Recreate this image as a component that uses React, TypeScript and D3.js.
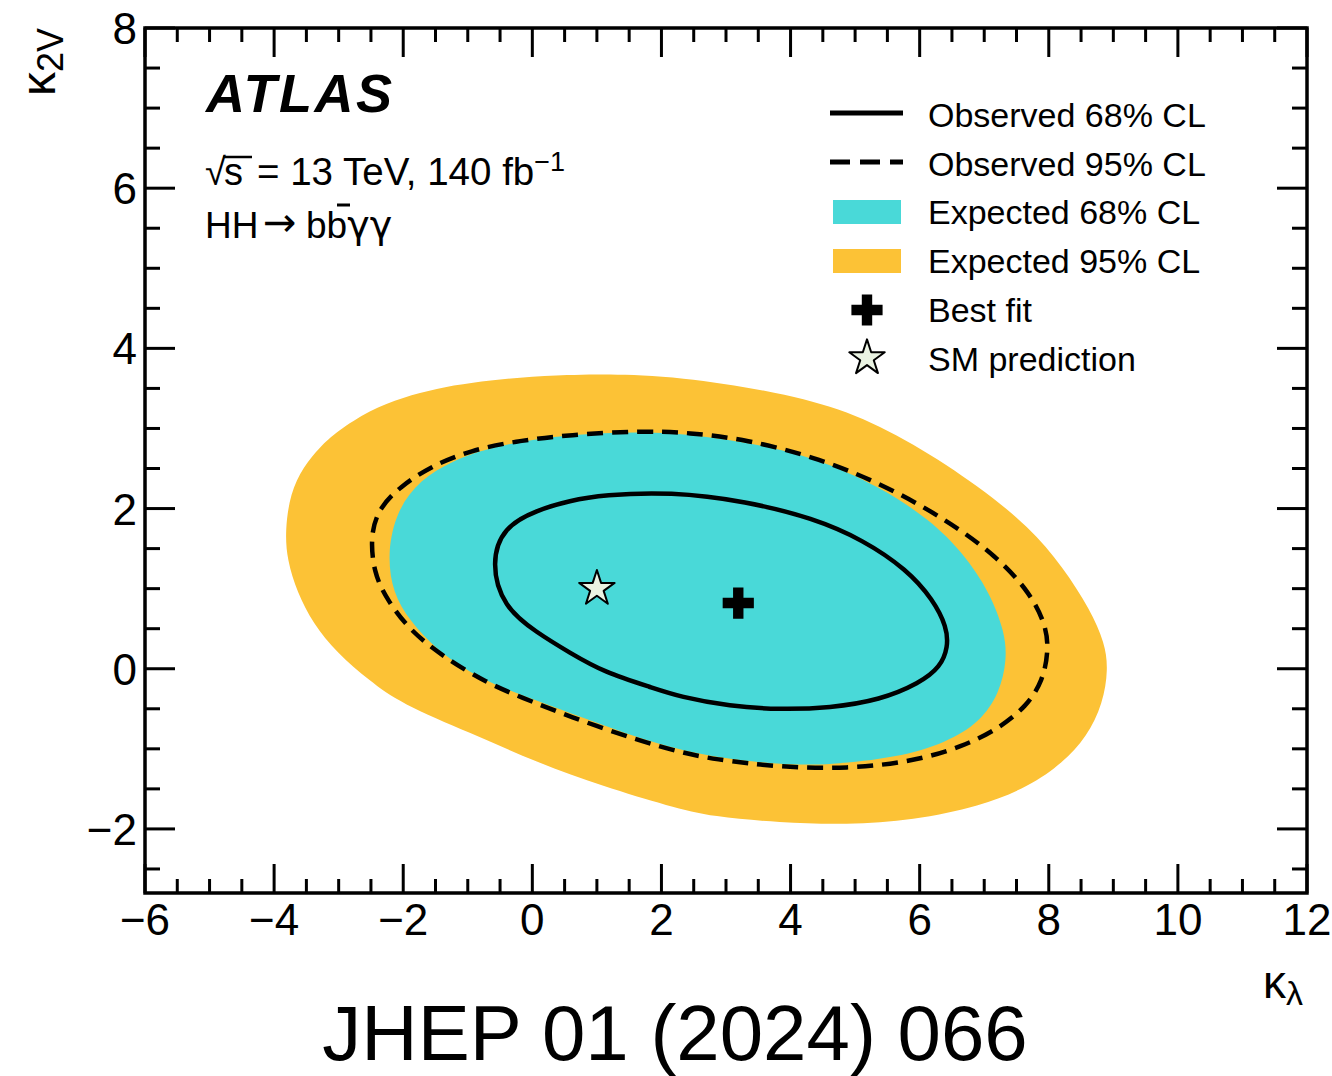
import React from 'react';
import * as d3 from 'd3';

// contour points: [kappa_lambda, kappa_2V]
const expected95: [number, number][] = [
  [-3.83, 1.73], [-3.75, 2.19], [-3.55, 2.52], [-3.29, 2.77], [-3.03, 2.96], [-2.52, 3.23],
  [-2.0, 3.39], [-1.48, 3.5], [-0.96, 3.57], [-0.19, 3.64], [0.58, 3.67], [1.1, 3.68],
  [2.28, 3.65], [3.83, 3.45], [4.87, 3.23], [5.9, 2.82], [6.93, 2.27], [7.7, 1.77],
  [8.22, 1.27], [8.64, 0.74], [8.87, 0.32], [8.92, -0.01], [8.84, -0.43], [8.59, -0.85],
  [8.22, -1.17], [7.7, -1.47], [6.93, -1.72], [5.9, -1.89], [4.87, -1.95], [3.83, -1.92],
  [2.8, -1.85], [2.13, -1.72], [1.1, -1.47], [0.07, -1.17], [-0.96, -0.8], [-2.05, -0.43],
  [-2.52, -0.15], [-3.03, 0.2], [-3.4, 0.57], [-3.64, 0.95], [-3.8, 1.36],
];
const expected68: [number, number][] = [
  [-2.25, 1.44], [-2.1, 1.98], [-1.74, 2.36], [-1.23, 2.6], [-0.7, 2.75], [0.07, 2.88],
  [1.1, 2.95], [2.13, 2.96], [3.32, 2.83], [4.35, 2.65], [5.39, 2.27], [6.16, 1.86],
  [6.67, 1.45], [7.09, 0.95], [7.32, 0.45], [7.35, 0.11], [7.24, -0.3], [6.93, -0.67],
  [6.42, -0.92], [5.65, -1.11], [4.61, -1.2], [3.83, -1.2], [2.8, -1.1], [2.28, -1.01],
  [1.62, -0.86], [0.58, -0.55], [-0.45, -0.25], [-0.96, -0.05], [-1.48, 0.23], [-1.9, 0.6],
  [-2.16, 0.94],
];
const observed95: [number, number][] = [
  [-2.51, 1.69], [-2.36, 2.02], [-2.05, 2.27], [-1.59, 2.52], [-0.96, 2.73], [-0.19, 2.85],
  [0.58, 2.92], [1.62, 2.97], [2.44, 2.95], [3.32, 2.86], [4.35, 2.65], [5.39, 2.32],
  [6.42, 1.86], [7.2, 1.4], [7.71, 0.95], [7.97, 0.52], [7.99, 0.2], [7.91, -0.14],
  [7.66, -0.47], [7.2, -0.76], [6.67, -0.97], [5.9, -1.16], [4.87, -1.25], [3.83, -1.23],
  [2.8, -1.13], [2.28, -1.04], [1.62, -0.89], [0.58, -0.6], [-0.19, -0.35], [-0.7, -0.18],
  [-1.38, 0.15], [-1.9, 0.48], [-2.25, 0.86], [-2.46, 1.2],
];
const observed68: [number, number][] = [
  [-0.64, 1.32], [-0.45, 1.77], [0.07, 1.98], [0.58, 2.1], [1.1, 2.17], [2.13, 2.21],
  [3.32, 2.09], [4.35, 1.88], [5.12, 1.61], [5.8, 1.24], [6.21, 0.86], [6.42, 0.52],
  [6.44, 0.27], [6.32, 0.02], [6.0, -0.18], [5.39, -0.39], [4.61, -0.49], [3.83, -0.51],
  [3.06, -0.47], [2.28, -0.35], [1.87, -0.24], [1.1, -0.04], [0.58, 0.2], [0.07, 0.45],
  [-0.45, 0.77],
];
const bestFit: [number, number] = [3.19, 0.82];
const smPoint: [number, number] = [1, 1];

const xTicks = [-6, -4, -2, 0, 2, 4, 6, 8, 10, 12];
const yTicks = [-2, 0, 2, 4, 6, 8];
const legendLabels = [
  'Observed 68% CL',
  'Observed 95% CL',
  'Expected 68% CL',
  'Expected 95% CL',
  'Best fit',
  'SM prediction',
];

const CYAN = '#49D9D8';
const YELLOW = '#FCC236';
const STAR_FILL = '#EAF3E2';
const FONT = '"Liberation Sans", Arial, Helvetica, sans-serif';

const W = 1332;
const H = 1076;
const m = { left: 145, right: 1307, top: 28, bottom: 893 };

const App: React.FC = () => {
  const x = d3.scaleLinear().domain([-6, 12]).range([m.left, m.right]);
  const y = d3.scaleLinear().domain([-2.8, 8]).range([m.bottom, m.top]);

  const contour = d3.line<[number, number]>()
    .x(d => x(d[0]))
    .y(d => y(d[1]))
    .curve(d3.curveBasisClosed);

  const star = d3.symbol(d3.symbolStar, 390)();
  const cross = d3.symbol(d3.symbolCross, 540)();

  const minorX = d3.range(-6, 12.001, 0.5).filter(v => !xTicks.includes(v));
  const minorY = d3.range(-2.5, 8.001, 0.5).filter(v => !yTicks.includes(v));

  const fmt = (v: number) => (v < 0 ? '\u2212' + Math.abs(v) : String(v));

  const legX = 928;
  const legY0 = 127;
  const legStep = 48.7;

  return (
    <svg width={W} height={H} style={{ position: 'absolute', left: 0, top: 0, display: 'block' }} fontFamily={FONT}>
      <rect width={W} height={H} fill="white" />

      {/* expected bands */}
      <path d={contour(expected95) || ''} fill={YELLOW} />
      <path d={contour(expected68) || ''} fill={CYAN} />

      {/* observed contours */}
      <path d={contour(observed95) || ''} fill="none" stroke="black" strokeWidth={4.5} strokeDasharray="16 9" />
      <path d={contour(observed68) || ''} fill="none" stroke="black" strokeWidth={4.5} />

      {/* markers */}
      <path d={cross || ''} transform={`translate(${x(bestFit[0])},${y(bestFit[1])})`} fill="black" />
      <path d={star || ''} transform={`translate(${x(smPoint[0])},${y(smPoint[1])})`} fill={STAR_FILL} stroke="black" strokeWidth={2} strokeLinejoin="round" />

      {/* frame + ticks */}
      <g stroke="black" strokeWidth={3}>
        {xTicks.map(v => (
          <g key={'xt' + v}>
            <line x1={x(v)} x2={x(v)} y1={m.bottom} y2={m.bottom - 29} />
            <line x1={x(v)} x2={x(v)} y1={m.top} y2={m.top + 29} />
          </g>
        ))}
        {minorX.map(v => (
          <g key={'xm' + v}>
            <line x1={x(v)} x2={x(v)} y1={m.bottom} y2={m.bottom - 14} />
            <line x1={x(v)} x2={x(v)} y1={m.top} y2={m.top + 14} />
          </g>
        ))}
        {yTicks.map(v => (
          <g key={'yt' + v}>
            <line x1={m.left} x2={m.left + 30} y1={y(v)} y2={y(v)} />
            <line x1={m.right} x2={m.right - 30} y1={y(v)} y2={y(v)} />
          </g>
        ))}
        {minorY.map(v => (
          <g key={'ym' + v}>
            <line x1={m.left} x2={m.left + 15} y1={y(v)} y2={y(v)} />
            <line x1={m.right} x2={m.right - 15} y1={y(v)} y2={y(v)} />
          </g>
        ))}
      </g>
      <rect x={m.left} y={m.top} width={m.right - m.left} height={m.bottom - m.top} fill="none" stroke="black" strokeWidth={3.5} />

      {/* tick labels */}
      <g fontSize={44} fill="black">
        {xTicks.map(v => (
          <text key={'xl' + v} x={x(v)} y={935} textAnchor="middle">{fmt(v)}</text>
        ))}
        {yTicks.map(v => (
          <text key={'yl' + v} x={137} y={y(v) + 16} textAnchor="end">{fmt(v)}</text>
        ))}
      </g>

      {/* axis titles */}
      <text x={1303} y={998} textAnchor="end" fontSize={46}>
        κ<tspan fontSize={34} dy={7}>λ</tspan>
      </text>
      <text transform="translate(55,28) rotate(-90)" textAnchor="end" fontSize={48}>
        κ<tspan fontSize={36} dy={8}>2V</tspan>
      </text>

      {/* ATLAS label */}
      <text x={206} y={112} fontSize={54} fontWeight="bold" fontStyle="italic" letterSpacing={2.5}>ATLAS</text>
      <text x={205} y={185} fontSize={38}>√</text>
      <text x={224} y={185} fontSize={38}>s</text>
      <line x1={223} x2={252} y1={157} y2={157} stroke="black" strokeWidth={2.5} />
      <text x={257} y={185} fontSize={38.5}>
        = 13 TeV, 140 fb<tspan fontSize={27} dy={-14}>−1</tspan>
      </text>
      <text x={205} y={238} fontSize={37}>HH</text>
      <text x={263} y={236} fontSize={40} fontFamily='"DejaVu Sans", sans-serif'>→</text>
      <text x={306} y={238} fontSize={37}>bb<tspan fontFamily='"DejaVu Sans", sans-serif' fontSize={38}>γγ</tspan></text>
      <line x1={337} x2={350} y1={205} y2={205} stroke="black" strokeWidth={3} />

      {/* legend */}
      <line x1={830} x2={903} y1={113} y2={113} stroke="black" strokeWidth={5} />
      <line x1={830} x2={903} y1={162} y2={162} stroke="black" strokeWidth={5} strokeDasharray="20 10" />
      <rect x={833} y={200} width={68} height={24} fill={CYAN} />
      <rect x={833} y={249} width={68} height={24} fill={YELLOW} />
      <path d={cross || ''} transform="translate(867,310)" fill="black" />
      <path d={star || ''} transform="translate(867,358)" fill={STAR_FILL} stroke="black" strokeWidth={2} strokeLinejoin="round" />
      <g fontSize={34}>
        {legendLabels.map((t, i) => (
          <text key={t} x={legX} y={legY0 + i * legStep}>{t}</text>
        ))}
      </g>

      {/* journal reference */}
      <text x={675} y={1060} textAnchor="middle" fontSize={78}>JHEP 01 (2024) 066</text>
    </svg>
  );
};

export default App;
